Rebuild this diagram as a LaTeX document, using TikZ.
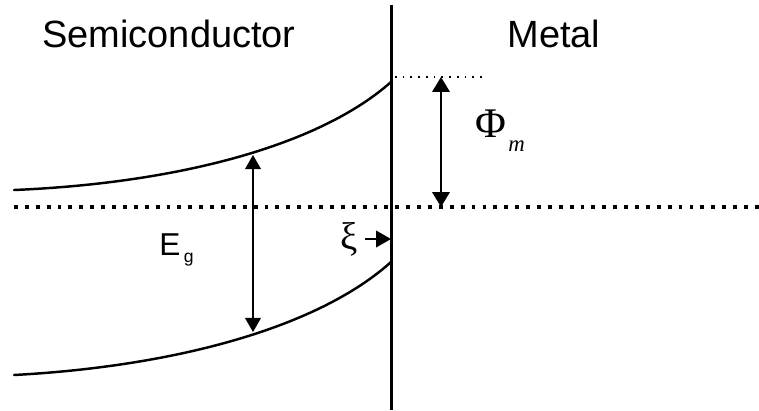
\documentclass[tikz,border=0pt]{standalone}
\usepackage{fontspec}
\setmainfont{Liberation Sans}
\newfontfamily\greekfont{Liberation Serif}
\usetikzlibrary{arrows.meta}
\tikzset{
  band/.style={line width=1.4pt, line cap=round},
  fermi/.style={line width=2.2pt, dash pattern=on 2.2pt off 4pt},
  vacuum/.style={line width=1pt, dash pattern=on 1pt off 3.4pt},
  head/.tip={Triangle[length=8.5pt,width=9.5pt]},
  gaparrow/.style={line width=0.6pt, {Triangle[length=8pt,width=9pt]}-{Triangle[length=8pt,width=9pt]}},
  workarrow/.style={line width=0.9pt, {Triangle[length=8.5pt,width=10pt]}-{Triangle[length=8.5pt,width=10pt]}},
  label/.style={font=\fontsize{21.6}{24}\selectfont, anchor=base, inner sep=0pt}
}
\begin{document}
\begin{tikzpicture}[x=0.2mm, y=-0.2mm]
  \useasboundingbox (0,0) rectangle (759,410);

  % 1. Grenzflaeche Halbleiter / Metall
  \coordinate (wtop) at (391,5);
  \coordinate (wbot) at (391,410);
  \draw[line width=1.7pt] (wtop) -- (wbot);

  % 2. Baender (Leitungs- und Valenzband)
  \coordinate (cbl) at (14,190);
  \coordinate (cbr) at (391,82);
  \coordinate (vbl) at (14,375);
  \coordinate (vbr) at (391,262);
  \draw[band] (cbl) .. controls (180,183) and (320,145) .. (cbr);
  \draw[band] (vbl) .. controls (180,366) and (320,326) .. (vbr);

  % 3. Ferminiveau und Vakuumniveau (gepunktet)
  \coordinate (efl) at (14,207);
  \coordinate (efr) at (759,207);
  \draw[fermi] (efl) -- (efr);
  \coordinate (vacl) at (395,77);
  \coordinate (vacr) at (485,77);
  \draw[vacuum] (vacl) -- (vacr);

  % 4. Pfeile
  \coordinate (egtop) at (253,155);
  \coordinate (egbot) at (253,332);
  \draw[gaparrow] (egtop) -- (egbot);
  \coordinate (phitop) at (441,77);
  \coordinate (phibot) at (441,207);
  \draw[workarrow] (phitop) -- (phibot);

  % 5. Beschriftungen
  \node[label] (semi) at (169,47) {Semiconductor};
  \node[label] (metal) at (554,47) {Metal};
  \node[font=\fontsize{18}{20}\selectfont, anchor=base west, inner sep=0pt] (eg) at (159,255) {E};
  \node[font=\fontsize{10}{12}\selectfont, anchor=base west, inner sep=0pt] at (eg.base east) [xshift=1.5pt, yshift=-4pt] {g};
  \node[font=\greekfont\fontsize{24}{28}\selectfont, anchor=base west, inner sep=0pt] (phi) at (475,137) {Φ};
  \node[font=\greekfont\itshape\fontsize{13}{14}\selectfont, anchor=base west, inner sep=0pt] at (508,151) {m};
  \node[font=\greekfont\fontsize{22}{24}\selectfont, anchor=east, inner sep=0pt] (xi) at (358,239) {ξ};
  \coordinate (xiend) at (391,239);
  \draw[line width=0.9pt, -{head}] (xi.east) ++(7,0) -- (xiend);
\end{tikzpicture}
\end{document}
